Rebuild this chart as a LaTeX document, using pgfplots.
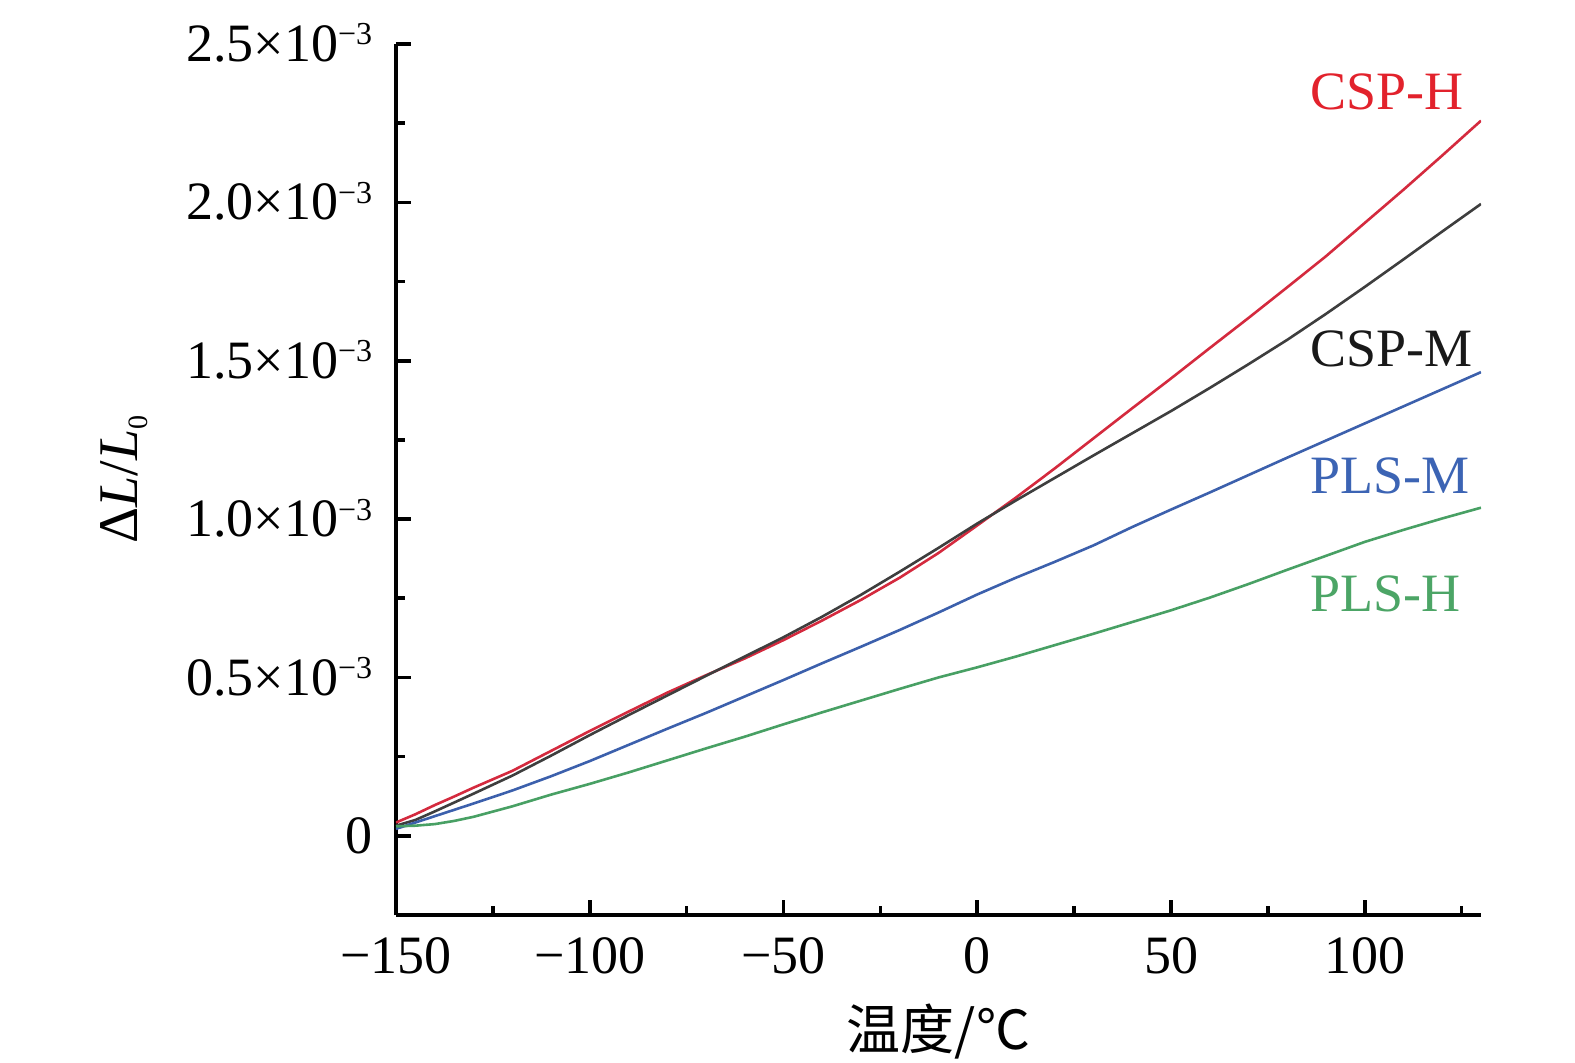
\documentclass[border=0pt]{standalone}
\usepackage{pgfplots}
\pgfplotsset{compat=1.18}
\usepackage{fontspec}
\setmainfont{Liberation Serif}
\newfontfamily\cjk{Noto Sans CJK SC}
\definecolor{cred}{RGB}{212,42,62}
\definecolor{cblack}{RGB}{62,62,62}
\definecolor{cblue}{RGB}{60,96,172}
\definecolor{cgreen}{RGB}{72,160,100}
\definecolor{lred}{RGB}{226,34,44}
\definecolor{lblack}{RGB}{25,25,25}
\definecolor{lblue}{RGB}{60,100,180}
\definecolor{lgreen}{RGB}{76,165,102}
\newcommand{\sci}[1]{#1×10\smash{\raisebox{8.3pt}{\fontsize{16}{16}\selectfont −3}}}
\begin{document}
\begin{tikzpicture}
\useasboundingbox (-198pt,-73.5pt) rectangle (589.5pt,457.5pt);
\begin{axis}[
  at={(0,0)}, anchor=south west,
  scale only axis, width=542.5pt, height=435.5pt,
  xmin=-150, xmax=130, ymin=-0.25, ymax=2.5,
  axis lines*=left,
  axis line style={line width=1.8pt, black},
  xtick={-150,-100,-50,0,50,100},
  xticklabels={−150,−100,−50,0,50,100},
  minor xtick={-125,-75,-25,25,75,125},
  ytick={0,0.5,1,1.5,2,2.5},
  yticklabels={0,\sci{0.5},\sci{1.0},\sci{1.5},\sci{2.0},\sci{2.5}},
  minor ytick={0.25,0.75,1.25,1.75,2.25},
  major tick length=7.5pt, minor tick length=4.5pt,
  every tick/.style={black, line width=1.8pt},
  tick align=inside,
  xticklabel style={font=\fontsize{27}{27}\selectfont, inner sep=0pt, anchor=north, yshift=-11pt},
  yticklabel style={font=\fontsize{27}{27}\selectfont, inner sep=0pt, anchor=east, xshift=-11.75pt},
  xlabel={{\cjk 温度/℃}},
  xlabel style={font=\fontsize{27}{27}\selectfont, inner sep=0pt, at={(axis description cs:0.5,-0.101)}, anchor=north},
  ylabel={Δ\textit{L}/\textit{L}\raisebox{-5pt}{\fontsize{14}{14}\selectfont 0}},
  ylabel style={font=\fontsize{28}{28}\selectfont, inner sep=0pt, at={(axis description cs:-0.2378,0.5)}, anchor=base},
]
\addplot[no marks, color=cred, line width=1.3pt, line join=round] coordinates {
(-150,0.042) (-145,0.068) (-140,0.097) (-135,0.124) (-130,0.152) (-120,0.205) (-110,0.268) (-100,0.331) (-90,0.392) (-80,0.452) (-70,0.507) (-60,0.560) (-50,0.618) (-40,0.680) (-30,0.745) (-20,0.815) (-10,0.893) (0,0.980) (10,1.068) (20,1.160) (30,1.255) (40,1.350) (50,1.444) (60,1.540) (70,1.635) (80,1.732) (90,1.830) (100,1.935) (110,2.040) (120,2.148) (130,2.258)
};
\addplot[no marks, color=cblack, line width=1.3pt, line join=round] coordinates {
(-150,0.032) (-145,0.050) (-140,0.077) (-135,0.105) (-130,0.133) (-120,0.190) (-110,0.253) (-100,0.318) (-90,0.381) (-80,0.443) (-70,0.505) (-60,0.566) (-50,0.627) (-40,0.692) (-30,0.761) (-20,0.834) (-10,0.909) (0,0.986) (10,1.059) (20,1.130) (30,1.201) (40,1.271) (50,1.341) (60,1.414) (70,1.489) (80,1.566) (90,1.648) (100,1.733) (110,1.820) (120,1.908) (130,1.995)
};
\addplot[no marks, color=cblue, line width=1.3pt, line join=round] coordinates {
(-150,0.022) (-145,0.042) (-140,0.062) (-130,0.102) (-120,0.143) (-110,0.188) (-100,0.236) (-90,0.287) (-80,0.338) (-70,0.388) (-60,0.440) (-50,0.492) (-40,0.545) (-30,0.597) (-20,0.650) (-10,0.705) (0,0.762) (10,0.815) (20,0.865) (30,0.917) (40,0.975) (50,1.030) (60,1.084) (70,1.139) (80,1.194) (90,1.248) (100,1.302) (110,1.356) (120,1.410) (130,1.464)
};
\addplot[no marks, color=cgreen, line width=1.3pt, line join=round] coordinates {
(-150,0.030) (-145,0.032) (-140,0.037) (-135,0.047) (-130,0.060) (-120,0.093) (-110,0.130) (-100,0.164) (-90,0.200) (-80,0.238) (-70,0.276) (-60,0.313) (-50,0.352) (-40,0.390) (-30,0.427) (-20,0.464) (-10,0.500) (0,0.532) (10,0.566) (20,0.602) (30,0.638) (40,0.675) (50,0.712) (60,0.752) (70,0.795) (80,0.840) (90,0.884) (100,0.928) (110,0.966) (120,1.002) (130,1.036)
};
\node[anchor=base west, inner sep=0pt, font=\fontsize{27}{27}\selectfont, text=lred] at (axis cs:85.8,2.292) {CSP-H};
\node[anchor=base west, inner sep=0pt, font=\fontsize{27}{27}\selectfont, text=lblack] at (axis cs:85.8,1.483) {CSP-M};
\node[anchor=base west, inner sep=0pt, font=\fontsize{27}{27}\selectfont, text=lblue] at (axis cs:85.8,1.081) {PLS-M};
\node[anchor=base west, inner sep=0pt, font=\fontsize{27}{27}\selectfont, text=lgreen] at (axis cs:85.8,0.709) {PLS-H};
\end{axis}
\end{tikzpicture}
\end{document}
